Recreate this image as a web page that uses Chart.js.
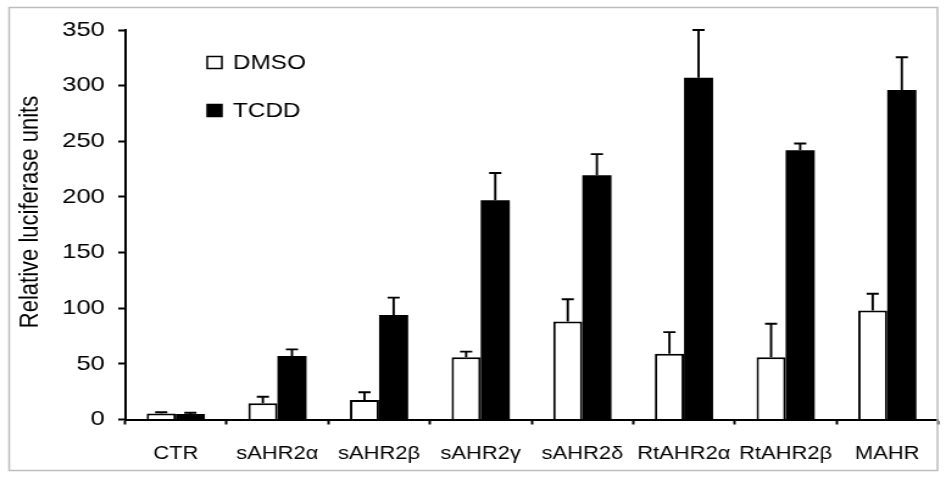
<!DOCTYPE html>
<html>
<head>
<meta charset="utf-8">
<script src="https://cdn.jsdelivr.net/npm/chart.js@4.4.1/dist/chart.umd.min.js"></script>
<style>
  html, body { margin: 0; padding: 0; background: #fff; }
</style>
</head>
<body>
<!-- the original figure is stretched sideways, so the canvas is drawn narrow and widened by css -->
<canvas id="chart" width="776" height="481" style="width:946px;height:481px"></canvas>
<script>
const categories = ['CTR', 'sAHR2α', 'sAHR2β', 'sAHR2γ', 'sAHR2δ', 'RtAHR2α', 'RtAHR2β', 'MAHR'];
const dmso = [5.5, 14.5, 17.5, 56, 88, 59, 56, 98];
const dmsoErr = [1, 6, 7, 5, 20, 19.5, 30, 15];
const tcdd = [5, 57, 94, 197, 219.5, 307, 242, 296];
const tcddErr = [1, 6, 15.5, 24.5, 19, 43, 6, 29.5];
const yTicks = [0, 50, 100, 150, 200, 250, 300, 350];
const yTitle = 'Relative luciferase units';

const FONT = '"Liberation Sans", Arial, sans-serif';

const errorBars = {
    id: 'errorBars',
    afterDatasetsDraw(chart) {
        const ctx = chart.ctx;
        const y = chart.scales.y;
        ctx.save();
        ctx.strokeStyle = '#000';
        ctx.lineWidth = 1.9;
        chart.data.datasets.forEach((ds, i) => {
            chart.getDatasetMeta(i).data.forEach((bar, j) => {
                const top = y.getPixelForValue(ds.data[j] + ds.errors[j]);
                ctx.beginPath();
                ctx.moveTo(bar.x, bar.y);
                ctx.lineTo(bar.x, top);
                ctx.moveTo(bar.x - 5, top);
                ctx.lineTo(bar.x + 5, top);
                ctx.stroke();
            });
        });
        ctx.restore();
    }
};

const extras = {
    id: 'extras',
    afterDraw(chart) {
        const ctx = chart.ctx;
        ctx.save();
        // grey frame
        ctx.strokeStyle = '#bdbdbd';
        ctx.lineWidth = 1.5;
        ctx.strokeRect(7.5, 7.5, 761.5, 463);

        // y title
        ctx.fillStyle = '#000';
        ctx.font = '22px ' + FONT;
        ctx.textAlign = 'center';
        ctx.textBaseline = 'middle';
        ctx.translate(25, 212);
        ctx.rotate(-Math.PI / 2);
        ctx.fillText(yTitle, 0, 0);
        ctx.restore();

        // legend
        ctx.save();
        ctx.font = '20px ' + FONT;
        ctx.textBaseline = 'middle';
        ctx.textAlign = 'left';
        const rows = [62.5, 110.5];
        chart.data.datasets.forEach((ds, i) => {
            const cy = rows[i];
            ctx.fillStyle = ds.backgroundColor;
            ctx.fillRect(170, cy - 6, 12, 12);
            ctx.strokeStyle = '#000';
            ctx.lineWidth = 1.5;
            ctx.strokeRect(170, cy - 6, 12, 12);
            ctx.fillStyle = '#000';
            ctx.fillText(ds.label, 191, cy + 1);
        });
        ctx.restore();
    }
};

new Chart(document.getElementById('chart'), {
    type: 'bar',
    data: {
        labels: categories,
        datasets: [
            {
                label: 'DMSO',
                data: dmso,
                errors: dmsoErr,
                backgroundColor: '#ffffff',
                borderColor: '#000000',
                borderWidth: 2
            },
            {
                label: 'TCDD',
                data: tcdd,
                errors: tcddErr,
                backgroundColor: '#000000',
                borderColor: '#000000',
                borderWidth: 0
            }
        ]
    },
    options: {
        responsive: false,
        animation: false,
        devicePixelRatio: 1,
        categoryPercentage: 0.573,
        barPercentage: 1,
        layout: { padding: { top: 30, right: 6.5, left: 0, bottom: 0 } },
        plugins: {
            legend: { display: false },
            tooltip: { enabled: false }
        },
        scales: {
            x: {
                offset: true,
                grid: {
                    offset: true,
                    drawOnChartArea: false,
                    drawTicks: true,
                    tickLength: 5,
                    tickColor: '#000',
                    tickWidth: 2
                },
                border: { display: true, color: '#000', width: 2, z: 1 },
                ticks: {
                    color: '#000',
                    padding: 19,
                    maxRotation: 0,
                    autoSkip: false,
                    font: { family: FONT, size: 18 }
                },
                afterFit(scale) { scale.height = 61.5; }
            },
            y: {
                min: 0,
                max: 350,
                afterBuildTicks(scale) { scale.ticks = yTicks.map(v => ({ value: v })); },
                grid: {
                    drawOnChartArea: false,
                    drawTicks: true,
                    tickLength: 5.5,
                    tickColor: '#000',
                    tickWidth: 2
                },
                border: { display: true, color: '#000', width: 2, z: 1 },
                ticks: {
                    color: '#000',
                    padding: 11,
                    font: { family: FONT, size: 21 }
                },
                afterFit(scale) { scale.width = 102.5; }
            }
        }
    },
    plugins: [errorBars, extras]
});
</script>
</body>
</html>
